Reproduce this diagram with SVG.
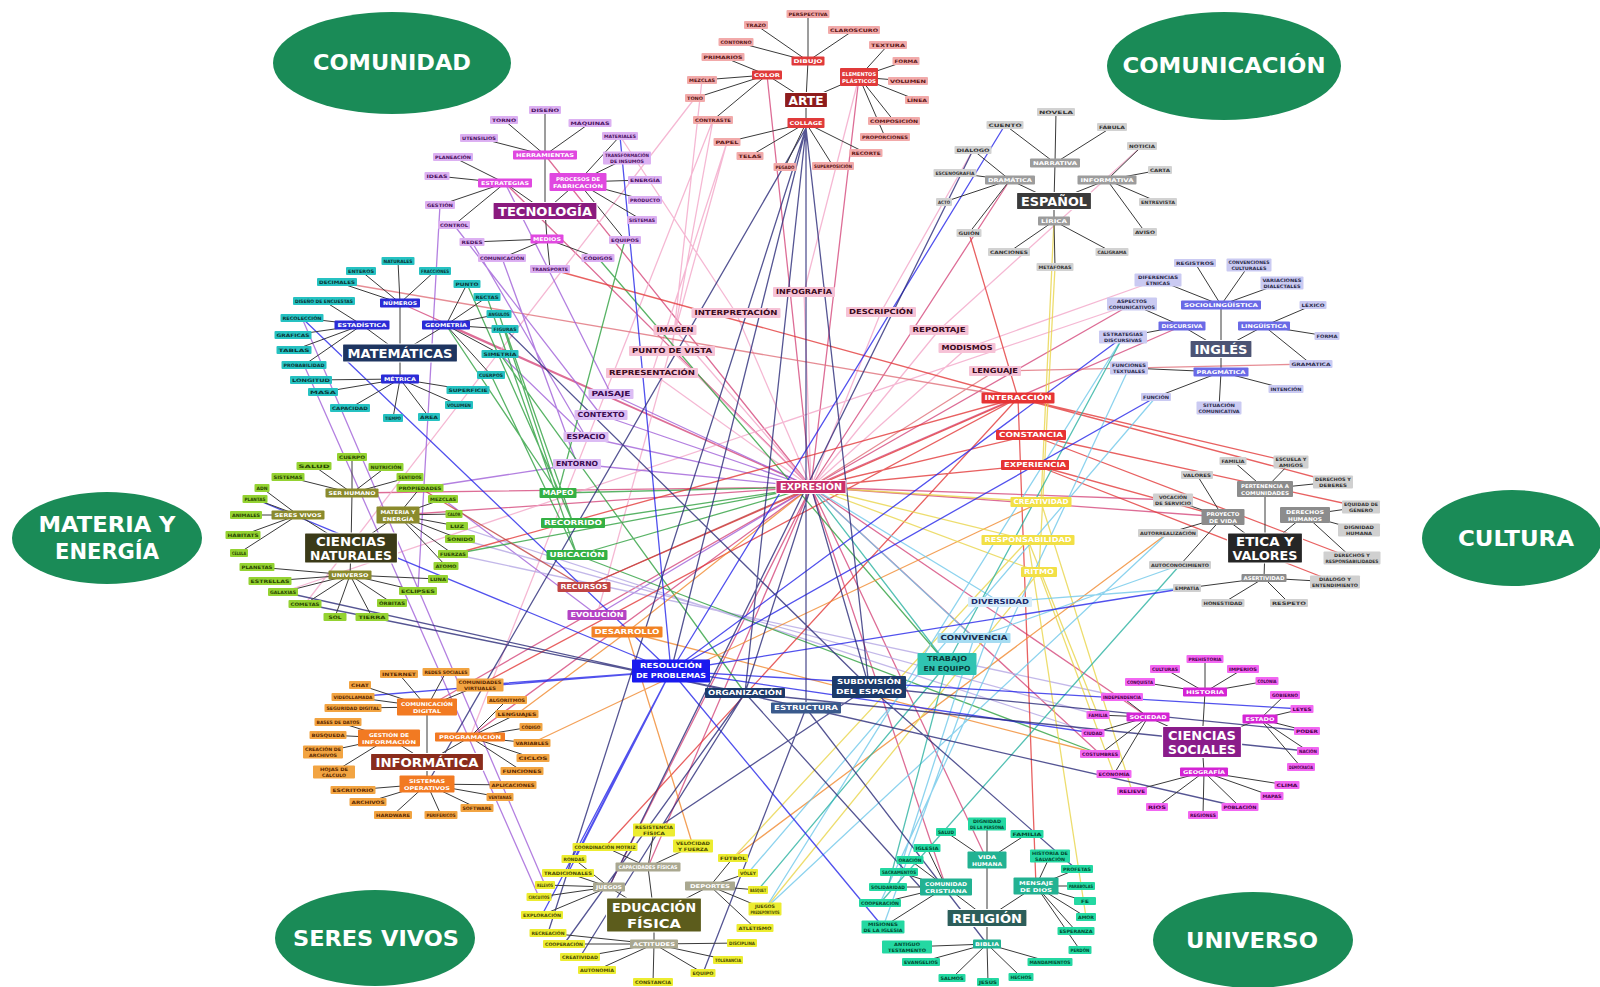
<svg xmlns="http://www.w3.org/2000/svg" width="1600" height="987" viewBox="0 0 1600 987">
<style>
text{font-family:"DejaVu Sans",Verdana,"Liberation Sans",sans-serif;font-weight:bold;text-anchor:middle;dominant-baseline:central}
.ov ellipse{fill:#1a8b57}
.ov text{fill:#fff;font-size:21px}
rect{rx:1}
.h rect{stroke:#fff;stroke-width:1.2}
.h text{fill:#fff;font-size:13px}
.c text{fill:#fff;font-size:5.2px}
.l text{font-size:4.6px}
.m text{font-size:7px}
.br{fill:none;stroke:#3a3a3a;stroke-width:1}
.x{fill:none;stroke-width:1.3;opacity:.8}
.k-ar .h rect{fill:#8e1c1c}.k-ar .c rect{fill:#e03a3a}.k-ar .l rect{fill:#f2aaaa}.k-ar .l text{fill:#5a1515}
.k-te .h rect{fill:#8a1a7e}.k-te .c rect{fill:#e048e0}.k-te .l rect{fill:#dcb0f2}.k-te .l text{fill:#4a1060}
.k-es .h rect{fill:#3a3a3a}.k-es .c rect{fill:#9c9c9c}.k-es .l rect{fill:#d2d2d2}.k-es .l text{fill:#333}
.k-in .h rect{fill:#4c5474}.k-in .c rect{fill:#6a6ae6}.k-in .l rect{fill:#cacaf2}.k-in .l text{fill:#2a2a4a}
.k-ma .h rect{fill:#1e3560}.k-ma .c rect{fill:#2b2bd6}.k-ma .l rect{fill:#26c2c2}.k-ma .l text{fill:#0a3636}
.k-cn .h rect{fill:#3b3a18}.k-cn .c rect{fill:#8a8a2c}.k-cn .l rect{fill:#94d232}.k-cn .l text{fill:#2a4600}
.k-et .h rect{fill:#262626}.k-et .c rect{fill:#8c8c8c}.k-et .l rect{fill:#d0d0d0}.k-et .l text{fill:#333}
.k-if .h rect{fill:#8a2c1c}.k-if .c rect{fill:#f27a22}.k-if .l rect{fill:#f2a442}.k-if .l text{fill:#5a2800}
.k-cs .h rect{fill:#8a1c8a}.k-cs .c rect{fill:#d424d4}.k-cs .l rect{fill:#f266f2}.k-cs .l text{fill:#4a004a}
.k-ef .h rect{fill:#5c5c1c}.k-ef .c rect{fill:#aaa890}.k-ef .l rect{fill:#ecec30}.k-ef .l text{fill:#4a4a00}
.k-re .h rect{fill:#2c5e5a}.k-re .c rect{fill:#22b292}.k-re .l rect{fill:#24d8a2}.k-re .l text{fill:#004a30}
.pk rect{fill:#f6c2d6}.pk text{fill:#3a0a20}
.vi rect{fill:#dcbcf4}.vi text{fill:#3a0a50}
.gr rect{fill:#34b044}.gr text{fill:#fff}
.rb rect{fill:#c04444}.rb text{fill:#fff}
.pu rect{fill:#b444c4}.pu text{fill:#fff}
.or rect{fill:#f28224}.or text{fill:#fff}
.rd rect{fill:#e63434}.rd text{fill:#fff}
.xp rect{fill:#c8306c;stroke:#fff}.xp text{fill:#fff;font-size:8px}
.ye rect{fill:#f2e046}.ye text{fill:#fff}
.lb rect{fill:#d6ecfa}.lb text{fill:#1a2a6a}
.cv rect{fill:#a6dcf2}.cv text{fill:#1a2a4a}
.tq rect{fill:#30c4b2}.tq text{fill:#0a3a3a}
.bu rect{fill:#1a1aee}.bu text{fill:#fff}
.nv rect{fill:#1c3a6a}.nv text{fill:#fff}
.nv2 rect{fill:#3a5a8c}.nv2 text{fill:#fff}
</style>

<rect width="1600" height="987" fill="#fff"/>

<!-- theme ovals -->
<g id="ovals" class="ov">
  <g id="ov-comunidad"><ellipse cx="392" cy="63" rx="119" ry="51"/><text x="392" y="63" textLength="158" lengthAdjust="spacingAndGlyphs">COMUNIDAD</text></g>
  <g id="ov-comunicacion"><ellipse cx="1224" cy="66" rx="117" ry="54"/><text x="1224" y="66" textLength="203" lengthAdjust="spacingAndGlyphs">COMUNICACIÓN</text></g>
  <g id="ov-materia"><ellipse cx="107" cy="538" rx="95" ry="46"/><text x="107" y="525" textLength="137" lengthAdjust="spacingAndGlyphs">MATERIA Y</text><text x="107" y="552" textLength="104" lengthAdjust="spacingAndGlyphs">ENERGÍA</text></g>
  <g id="ov-cultura"><ellipse cx="1512" cy="538" rx="90" ry="48"/><text x="1516" y="539" textLength="116" lengthAdjust="spacingAndGlyphs">CULTURA</text></g>
  <g id="ov-seres"><ellipse cx="375" cy="938" rx="100" ry="48"/><text x="376" y="939" textLength="166" lengthAdjust="spacingAndGlyphs">SERES VIVOS</text></g>
  <g id="ov-universo"><ellipse cx="1253" cy="940" rx="100" ry="48"/><text x="1252" y="941" textLength="132" lengthAdjust="spacingAndGlyphs">UNIVERSO</text></g>
</g>

<g id="connectors">
  <!-- long links between subjects and shared concepts -->
  <g id="cross-links">
    <path class="x" stroke="#d5487c" d="M811 487L545 155M811 487L505 183M811 487L446 325M811 487L400 303M811 487L398 515M811 487L352 493M811 487L427 707M811 487L470 737M811 487L648 867M811 487L609 887M811 487L946 887M811 487L987 860M811 487L1148 717M811 487L1100 754M811 487L1223 517M811 487L1173 500M811 487L1182 326M811 487L1132 304M811 487L1010 180M811 487L767 75M811 487L859 77"/>
    <path class="x" stroke="#f2a6c8" d="M804 292L811 487M804 292L859 77M736 313L811 487M736 313L620 136M881 312L811 487M881 312L973 150M675 330L811 487M675 330L713 120M939 330L811 487M939 330L1142 146M672 351L811 487M672 351L702 80M967 348L811 487M967 348L1158 280M652 373L811 487M652 373L727 142M713 120L470 737M727 142L597 615M695 98L305 604M1132 304L283 592"/>
    <path class="x" stroke="#e0707a" d="M995 371L811 487M995 371L1311 364M337 282L1018 398"/>
    <path class="x" stroke="#a060d8" d="M611 394L811 487M611 394L505 183M601 415L811 487M601 415L454 225M586 437L811 487M586 437L500 354M577 464L811 487M577 464L420 488M472 242L586 437M502 258L577 464M597 615L811 487M597 615L443 499M440 205L418 591M302 318L545 885M304 365L539 897"/>
    <path class="x" stroke="#b4a6e4" d="M1098 715L460 539M1093 733L457 526M1122 697L453 554"/>
    <path class="x" stroke="#30a040" d="M558 493L811 487M558 493L499 314M558 493L446 325M573 523L811 487M573 523L505 329M573 523L467 284M577 555L811 487M577 555L491 375M577 555L487 297M598 258L947 664M577 555L1100 754M454 554L811 487M500 354L745 693M625 240L558 493"/>
    <path class="x" stroke="#e23a3a" d="M1018 398L480 685M1018 398L605 847M1018 398L550 269M1018 398L1291 462M1018 398L1333 482M1018 398L1036 886M1018 398L969 233M1018 398L584 587M1018 398L454 554M1031 435L811 487M1031 435L1352 558M1031 435L1361 507M1035 465L811 487M1035 465L1335 582M1035 465L1223 517"/>
    <path class="x" stroke="#c04444" d="M584 587L811 487M584 587L420 488"/>
    <path class="x" stroke="#f08a30" d="M627 632L811 487M627 632L517 714M627 632L693 846M627 632L1100 754M532 743L1041 502M733 858L1168 533"/>
    <path class="x" stroke="#e8d44a" d="M1041 502L811 487M1041 502L1054 221M1028 540L811 487M1028 540L1098 715M1028 540L733 858M1039 572L811 487M1039 572L1114 774M1039 572L765 909M1055 267L1039 572M1041 502L1132 791M1028 540L1086 917"/>
    <path class="x" stroke="#70c8ea" d="M1123 337L765 909M1129 368L880 903M1156 397L748 873M1000 602L811 487M1000 602L1187 588M1000 602L883 927M974 638L811 487M974 638L1180 565M974 638L899 872M1168 533L765 909"/>
    <path class="x" stroke="#2ab2a0" d="M947 664L811 487M947 664L888 887M947 664L758 890M947 664L1123 337M1180 565L880 903"/>
    <path class="x" stroke="#2525e8" d="M671 671L1123 337M671 671L1156 397M671 671L1005 125M671 671L1093 733M671 671L1302 709M671 671L1187 588M671 671L480 685M671 671L353 697M671 671L568 873M671 671L255 499M671 671L302 318M671 671L620 136M671 671L883 927M671 671L542 915M671 671L574 859"/>
    <path class="x" stroke="#2a2a78" d="M806 128L806 702M806 128L671 671M806 128L745 693M806 128L869 687M806 128L548 933M806 128L427 784M745 693L811 487M745 693L305 604M745 693L1306 751M745 693L920 887M869 687L811 487M869 687L505 329M869 687L1305 731M869 687L1076 869M869 687L654 830M806 708L1240 807M806 708L283 592M806 708L987 944M806 708L703 973M973 150L609 887M745 693L564 944M745 693L580 957"/>
  </g>

  <!-- branches inside each subject map -->
  <g id="branch-links" class="br">
    <path class="br" d="M806 100L808 61M806 100L767 75M806 100L859 77M806 100L806 123M808 61L808 14M808 61L756 25M808 61L854 30M808 61L736 42M767 75L723 57M767 75L702 80M767 75L695 98M767 75L713 120M859 77L888 45M859 77L906 61M859 77L908 81M859 77L917 100M859 77L894 121M859 77L885 137M806 123L727 142M806 123L750 156M806 123L866 153M806 123L785 167M806 123L833 166"/>
    <path class="br" d="M545 211L545 155M545 211L505 183M545 211L578 182M545 211L547 239M545 155L545 110M545 155L504 120M545 155L590 123M545 155L479 138M578 182L620 136M505 183L453 157M578 182L627 158M505 183L437 176M578 182L645 180M505 183L440 205M578 182L645 200M505 183L454 225M578 182L642 220M547 239L472 242M578 182L625 240M547 239L502 258M547 239L598 258M547 239L550 269"/>
    <path class="br" d="M1054 201L1055 163M1054 201L1010 180M1054 201L1107 180M1054 201L1054 221M1055 163L1056 112M1055 163L1005 125M1055 163L1112 127M1010 180L973 150M1107 180L1142 146M1010 180L955 173M1107 180L1160 170M1010 180L944 202M1107 180L1158 202M1010 180L969 233M1107 180L1145 232M1054 221L1009 252M1054 221L1112 252M1054 221L1055 267"/>
    <path class="br" d="M1221 349L1221 305M1221 349L1182 326M1221 349L1264 326M1221 349L1221 372M1221 305L1195 263M1221 305L1249 265M1221 305L1158 280M1221 305L1282 283M1182 326L1132 304M1264 326L1313 305M1182 326L1123 337M1264 326L1327 336M1221 372L1129 368M1264 326L1311 364M1221 372L1156 397M1221 372L1286 389M1221 372L1219 408"/>
    <path class="br" d="M400 353L400 303M400 353L362 325M400 353L446 325M400 353L400 379M400 303L398 261M400 303L361 271M400 303L435 271M400 303L337 282M446 325L467 284M362 325L324 301M446 325L487 297M362 325L302 318M446 325L499 314M362 325L293 335M446 325L505 329M362 325L294 350M446 325L500 354M362 325L304 365M446 325L491 375M400 379L311 380M400 379L468 390M400 379L323 392M400 379L459 405M400 379L350 408M400 379L393 418M400 379L429 417"/>
    <path class="br" d="M351 548L352 493M351 548L298 515M351 548L398 515M351 548L350 575M352 493L352 457M352 493L314 466M352 493L386 467M352 493L288 477M352 493L410 477M298 515L262 488M398 515L420 488M298 515L255 499M398 515L443 499M298 515L246 515M398 515L454 514M298 515L243 535M398 515L457 526M398 515L460 539M298 515L239 553M398 515L453 554M350 575L257 567M398 515L446 566M350 575L270 581M350 575L438 579M350 575L283 592M350 575L418 591M350 575L305 604M350 575L392 603M350 575L335 617M350 575L372 617"/>
    <path class="br" d="M1265 548L1265 489M1265 548L1223 517M1265 548L1305 515M1265 548L1264 578M1265 489L1233 461M1265 489L1291 462M1223 517L1197 475M1265 489L1333 482M1223 517L1173 500M1305 515L1361 507M1223 517L1168 533M1305 515L1359 530M1223 517L1180 565M1305 515L1352 558M1264 578L1187 588M1264 578L1335 582M1264 578L1223 603M1264 578L1289 603"/>
    <path class="br" d="M427 762L427 707M427 762L389 738M427 762L470 737M427 762L427 784M427 707L399 674M427 707L446 672M427 707L360 685M427 707L480 685M427 707L353 697M427 707L353 708M470 737L507 700M389 738L338 722M470 737L517 714M389 738L328 735M470 737L531 727M389 738L323 752M470 737L532 743M389 738L334 772M470 737L533 758M470 737L522 771M427 784L353 790M427 784L513 785M427 784L368 802M427 784L500 797M427 784L477 808M427 784L393 815M427 784L441 815"/>
    <path class="br" d="M1202 742L1205 692M1202 742L1148 717M1202 742L1260 719M1202 742L1204 772M1205 692L1205 659M1205 692L1165 669M1205 692L1243 669M1205 692L1140 682M1205 692L1267 681M1148 717L1122 697M1260 719L1285 695M1148 717L1098 715M1260 719L1302 709M1148 717L1093 733M1260 719L1307 731M1148 717L1100 754M1260 719L1308 751M1148 717L1114 774M1260 719L1301 767M1204 772L1132 791M1204 772L1287 785M1204 772L1157 807M1204 772L1272 796M1204 772L1240 807M1204 772L1203 815"/>
    <path class="br" d="M654 915L648 867M654 915L609 887M654 915L710 886M654 915L654 944M648 867L654 830M648 867L693 846M648 867L605 847M609 887L574 859M710 886L733 858M609 887L568 873M710 886L748 873M609 887L545 885M710 886L758 890M609 887L539 897M710 886L765 909M609 887L542 915M710 886L755 928M654 944L548 933M654 944L742 943M654 944L564 944M654 944L728 960M654 944L580 957M654 944L703 973M654 944L597 970M654 944L653 983"/>
    <path class="br" d="M987 918L987 860M987 918L946 887M987 918L1036 886M987 918L987 944M987 860L987 824M987 860L946 832M987 860L1027 834M946 887L927 848M1036 886L1050 856M946 887L910 860M946 887L899 872M1036 886L1077 869M946 887L888 887M1036 886L1081 886M946 887L880 903M1036 886L1085 901M946 887L883 927M1036 886L1086 917M987 944L907 947M1036 886L1076 931M987 944L921 962M1036 886L1080 950M987 944L952 978M987 944L1050 962M987 944L988 983M987 944L1021 977"/>
  </g>
</g>

<!-- shared concepts in the middle -->
<g id="concepts" class="m">
  <g id="m-infografia" class="pk" transform="translate(804,292)"><rect x="-31" y="-5" width="62" height="10"/><text textLength="56" lengthAdjust="spacingAndGlyphs">INFOGRAFÍA</text></g>
  <g id="m-interpretacion" class="pk" transform="translate(736,313)"><rect x="-44.5" y="-5" width="89" height="10"/><text textLength="83" lengthAdjust="spacingAndGlyphs">INTERPRETACIÓN</text></g>
  <g id="m-descripcion" class="pk" transform="translate(881,312)"><rect x="-35" y="-5" width="70" height="10"/><text textLength="64" lengthAdjust="spacingAndGlyphs">DESCRIPCIÓN</text></g>
  <g id="m-imagen" class="pk" transform="translate(675,330)"><rect x="-21.5" y="-5" width="43" height="10"/><text textLength="37" lengthAdjust="spacingAndGlyphs">IMAGEN</text></g>
  <g id="m-reportaje" class="pk" transform="translate(939,330)"><rect x="-29.5" y="-5" width="59" height="10"/><text textLength="53" lengthAdjust="spacingAndGlyphs">REPORTAJE</text></g>
  <g id="m-punto" class="pk" transform="translate(672,351)"><rect x="-43" y="-5" width="86" height="10"/><text textLength="80" lengthAdjust="spacingAndGlyphs">PUNTO DE VISTA</text></g>
  <g id="m-modismos" class="pk" transform="translate(967,348)"><rect x="-28.5" y="-5" width="57" height="10"/><text textLength="51" lengthAdjust="spacingAndGlyphs">MODISMOS</text></g>
  <g id="m-representacion" class="pk" transform="translate(652,373)"><rect x="-46" y="-5" width="92" height="10"/><text textLength="86" lengthAdjust="spacingAndGlyphs">REPRESENTACIÓN</text></g>
  <g id="m-lenguaje" class="pk" transform="translate(995,371)"><rect x="-26" y="-5" width="52" height="10"/><text textLength="46" lengthAdjust="spacingAndGlyphs">LENGUAJE</text></g>
  <g id="m-paisaje" class="vi" transform="translate(611,394)"><rect x="-22.5" y="-5" width="45" height="10"/><text textLength="39" lengthAdjust="spacingAndGlyphs">PAISAJE</text></g>
  <g id="m-contexto" class="vi" transform="translate(601,415)"><rect x="-26.5" y="-5" width="53" height="10"/><text textLength="47" lengthAdjust="spacingAndGlyphs">CONTEXTO</text></g>
  <g id="m-espacio" class="vi" transform="translate(586,437)"><rect x="-22.5" y="-5" width="45" height="10"/><text textLength="39" lengthAdjust="spacingAndGlyphs">ESPACIO</text></g>
  <g id="m-entorno" class="vi" transform="translate(577,464)"><rect x="-24" y="-5" width="48" height="10"/><text textLength="42" lengthAdjust="spacingAndGlyphs">ENTORNO</text></g>
  <g id="m-mapeo" class="gr" transform="translate(558,493)"><rect x="-18.5" y="-5" width="37" height="10"/><text textLength="31" lengthAdjust="spacingAndGlyphs">MAPEO</text></g>
  <g id="m-recorrido" class="gr" transform="translate(573,523)"><rect x="-32" y="-5" width="64" height="10"/><text textLength="58" lengthAdjust="spacingAndGlyphs">RECORRIDO</text></g>
  <g id="m-ubicacion" class="gr" transform="translate(577,555)"><rect x="-30.5" y="-5" width="61" height="10"/><text textLength="55" lengthAdjust="spacingAndGlyphs">UBICACIÓN</text></g>
  <g id="m-recursos" class="rb" transform="translate(584,587)"><rect x="-26.5" y="-5" width="53" height="10"/><text textLength="47" lengthAdjust="spacingAndGlyphs">RECURSOS</text></g>
  <g id="m-evolucion" class="pu" transform="translate(597,615)"><rect x="-29.5" y="-5" width="59" height="10"/><text textLength="53" lengthAdjust="spacingAndGlyphs">EVOLUCIÓN</text></g>
  <g id="m-desarrollo" class="or" transform="translate(627,632)"><rect x="-35.5" y="-5.5" width="71" height="11"/><text textLength="65" lengthAdjust="spacingAndGlyphs">DESARROLLO</text></g>
  <g id="m-interaccion" class="rd" transform="translate(1018,398)"><rect x="-36.5" y="-5.5" width="73" height="11"/><text textLength="67" lengthAdjust="spacingAndGlyphs">INTERACCIÓN</text></g>
  <g id="m-constancia" class="rd" transform="translate(1031,435)"><rect x="-35" y="-5" width="70" height="10"/><text textLength="64" lengthAdjust="spacingAndGlyphs">CONSTANCIA</text></g>
  <g id="m-experiencia" class="rd" transform="translate(1035,465)"><rect x="-34" y="-5" width="68" height="10"/><text textLength="62" lengthAdjust="spacingAndGlyphs">EXPERIENCIA</text></g>
  <g id="m-expresion" class="xp" transform="translate(811,487)"><rect x="-35" y="-6.5" width="70" height="13"/><text textLength="62" lengthAdjust="spacingAndGlyphs">EXPRESIÓN</text></g>
  <g id="m-creatividad" class="ye" transform="translate(1041,502)"><rect x="-30.5" y="-5" width="61" height="10"/><text textLength="55" lengthAdjust="spacingAndGlyphs">CREATIVIDAD</text></g>
  <g id="m-responsabilidad" class="ye" transform="translate(1028,540)"><rect x="-46.5" y="-5" width="93" height="10"/><text textLength="87" lengthAdjust="spacingAndGlyphs">RESPONSABILIDAD</text></g>
  <g id="m-ritmo" class="ye" transform="translate(1039,572)"><rect x="-18" y="-5" width="36" height="10"/><text textLength="30" lengthAdjust="spacingAndGlyphs">RITMO</text></g>
  <g id="m-diversidad" class="lb" transform="translate(1000,602)"><rect x="-32" y="-5" width="64" height="10"/><text textLength="58" lengthAdjust="spacingAndGlyphs">DIVERSIDAD</text></g>
  <g id="m-convivencia" class="cv" transform="translate(974,638)"><rect x="-36.5" y="-5" width="73" height="10"/><text textLength="67" lengthAdjust="spacingAndGlyphs">CONVIVENCIA</text></g>
  <g id="m-trabajo" class="tq" transform="translate(947,664)"><rect x="-29.5" y="-11" width="59" height="22"/><text y="-5" textLength="40" lengthAdjust="spacingAndGlyphs">TRABAJO</text><text y="5" textLength="47" lengthAdjust="spacingAndGlyphs">EN EQUIPO</text></g>
  <g id="m-resolucion" class="bu" transform="translate(671,671)"><rect x="-39" y="-11.5" width="78" height="23"/><text y="-5" textLength="62" lengthAdjust="spacingAndGlyphs">RESOLUCIÓN</text><text y="5" textLength="70" lengthAdjust="spacingAndGlyphs">DE PROBLEMAS</text></g>
  <g id="m-subdivision" class="nv" transform="translate(869,687)"><rect x="-37" y="-11" width="74" height="22"/><text y="-5" textLength="64" lengthAdjust="spacingAndGlyphs">SUBDIVISIÓN</text><text y="5" textLength="66" lengthAdjust="spacingAndGlyphs">DEL ESPACIO</text></g>
  <g id="m-organizacion" class="nv" transform="translate(745,693)"><rect x="-40" y="-5" width="80" height="10"/><text textLength="74" lengthAdjust="spacingAndGlyphs">ORGANIZACIÓN</text></g>
  <g id="m-estructura" class="nv2" transform="translate(806,708)"><rect x="-35" y="-5.5" width="70" height="11"/><text textLength="64" lengthAdjust="spacingAndGlyphs">ESTRUCTURA</text></g>
</g>

<!-- ARTE -->
<g id="cl-arte" class="k-ar">
  <g id="arte" class="h" transform="translate(806,100)"><rect x="-21.5" y="-7.5" width="43" height="15"/><text textLength="35" lengthAdjust="spacingAndGlyphs">ARTE</text></g>
  <g id="ar-c1" class="c" transform="translate(808,61)"><rect x="-16.5" y="-4.5" width="33" height="9"/><text textLength="29" lengthAdjust="spacingAndGlyphs">DIBUJO</text></g>
  <g id="ar-c2" class="c" transform="translate(767,75)"><rect x="-15" y="-4.5" width="30" height="9"/><text textLength="26" lengthAdjust="spacingAndGlyphs">COLOR</text></g>
  <g id="ar-c3" class="c" transform="translate(859,77)"><rect x="-19" y="-9" width="38" height="18"/><text y="-3.5" textLength="34" lengthAdjust="spacingAndGlyphs">ELEMENTOS</text><text y="3.5" textLength="34" lengthAdjust="spacingAndGlyphs">PLÁSTICOS</text></g>
  <g id="ar-c4" class="c" transform="translate(806,123)"><rect x="-18.5" y="-5" width="37" height="10"/><text textLength="33" lengthAdjust="spacingAndGlyphs">COLLAGE</text></g>
  <g id="ar-l1" class="l" transform="translate(808,14)"><rect x="-21.5" y="-4" width="43" height="8"/><text textLength="39" lengthAdjust="spacingAndGlyphs">PERSPECTIVA</text></g>
  <g id="ar-l2" class="l" transform="translate(756,25)"><rect x="-12" y="-4" width="24" height="8"/><text textLength="20" lengthAdjust="spacingAndGlyphs">TRAZO</text></g>
  <g id="ar-l3" class="l" transform="translate(854,30)"><rect x="-26" y="-4" width="52" height="8"/><text textLength="48" lengthAdjust="spacingAndGlyphs">CLAROSCURO</text></g>
  <g id="ar-l4" class="l" transform="translate(736,42)"><rect x="-17.5" y="-4" width="35" height="8"/><text textLength="31" lengthAdjust="spacingAndGlyphs">CONTORNO</text></g>
  <g id="ar-l5" class="l" transform="translate(888,45)"><rect x="-19" y="-4" width="38" height="8"/><text textLength="34" lengthAdjust="spacingAndGlyphs">TEXTURA</text></g>
  <g id="ar-l6" class="l" transform="translate(723,57)"><rect x="-21.5" y="-4" width="43" height="8"/><text textLength="39" lengthAdjust="spacingAndGlyphs">PRIMARIOS</text></g>
  <g id="ar-l7" class="l" transform="translate(906,61)"><rect x="-13.5" y="-4" width="27" height="8"/><text textLength="23" lengthAdjust="spacingAndGlyphs">FORMA</text></g>
  <g id="ar-l8" class="l" transform="translate(702,80)"><rect x="-15" y="-4" width="30" height="8"/><text textLength="26" lengthAdjust="spacingAndGlyphs">MEZCLAS</text></g>
  <g id="ar-l9" class="l" transform="translate(908,81)"><rect x="-20" y="-4" width="40" height="8"/><text textLength="36" lengthAdjust="spacingAndGlyphs">VOLUMEN</text></g>
  <g id="ar-l10" class="l" transform="translate(695,98)"><rect x="-10" y="-4" width="20" height="8"/><text textLength="16" lengthAdjust="spacingAndGlyphs">TONO</text></g>
  <g id="ar-l11" class="l" transform="translate(917,100)"><rect x="-12" y="-4" width="24" height="8"/><text textLength="20" lengthAdjust="spacingAndGlyphs">LÍNEA</text></g>
  <g id="ar-l12" class="l" transform="translate(713,120)"><rect x="-20" y="-4" width="40" height="8"/><text textLength="36" lengthAdjust="spacingAndGlyphs">CONTRASTE</text></g>
  <g id="ar-l13" class="l" transform="translate(894,121)"><rect x="-26" y="-4" width="52" height="8"/><text textLength="48" lengthAdjust="spacingAndGlyphs">COMPOSICIÓN</text></g>
  <g id="ar-l14" class="l" transform="translate(885,137)"><rect x="-25" y="-4" width="50" height="8"/><text textLength="46" lengthAdjust="spacingAndGlyphs">PROPORCIONES</text></g>
  <g id="ar-l15" class="l" transform="translate(727,142)"><rect x="-13.5" y="-4" width="27" height="8"/><text textLength="23" lengthAdjust="spacingAndGlyphs">PAPEL</text></g>
  <g id="ar-l16" class="l" transform="translate(750,156)"><rect x="-13.5" y="-4" width="27" height="8"/><text textLength="23" lengthAdjust="spacingAndGlyphs">TELAS</text></g>
  <g id="ar-l17" class="l" transform="translate(866,153)"><rect x="-16.5" y="-4" width="33" height="8"/><text textLength="29" lengthAdjust="spacingAndGlyphs">RECORTE</text></g>
  <g id="ar-l18" class="l" transform="translate(785,167)"><rect x="-11.5" y="-4" width="23" height="8"/><text textLength="19" lengthAdjust="spacingAndGlyphs">PEGADO</text></g>
  <g id="ar-l19" class="l" transform="translate(833,166)"><rect x="-21" y="-4" width="42" height="8"/><text textLength="38" lengthAdjust="spacingAndGlyphs">SUPERPOSICIÓN</text></g>
</g>

<!-- TECNOLOGÍA -->
<g id="cl-tecnologia" class="k-te">
  <g id="tecnologia" class="h" transform="translate(545,211)"><rect x="-52" y="-8.5" width="104" height="17"/><text textLength="94" lengthAdjust="spacingAndGlyphs">TECNOLOGÍA</text></g>
  <g id="te-c1" class="c" transform="translate(545,155)"><rect x="-32" y="-4.5" width="64" height="9"/><text textLength="58" lengthAdjust="spacingAndGlyphs">HERRAMIENTAS</text></g>
  <g id="te-c2" class="c" transform="translate(505,183)"><rect x="-27" y="-4.5" width="54" height="9"/><text textLength="48" lengthAdjust="spacingAndGlyphs">ESTRATEGIAS</text></g>
  <g id="te-c3" class="c" transform="translate(578,182)"><rect x="-28.5" y="-9" width="57" height="18"/><text y="-3.5" textLength="44" lengthAdjust="spacingAndGlyphs">PROCESOS DE</text><text y="3.5" textLength="50" lengthAdjust="spacingAndGlyphs">FABRICACIÓN</text></g>
  <g id="te-c4" class="c" transform="translate(547,239)"><rect x="-16.5" y="-4.5" width="33" height="9"/><text textLength="28" lengthAdjust="spacingAndGlyphs">MEDIOS</text></g>
  <g id="te-l1" class="l" transform="translate(545,110)"><rect x="-16" y="-4" width="32" height="8"/><text textLength="28" lengthAdjust="spacingAndGlyphs">DISEÑO</text></g>
  <g id="te-l2" class="l" transform="translate(504,120)"><rect x="-14" y="-4" width="28" height="8"/><text textLength="24" lengthAdjust="spacingAndGlyphs">TORNO</text></g>
  <g id="te-l3" class="l" transform="translate(590,123)"><rect x="-21.5" y="-4" width="43" height="8"/><text textLength="39" lengthAdjust="spacingAndGlyphs">MÁQUINAS</text></g>
  <g id="te-l4" class="l" transform="translate(479,138)"><rect x="-19" y="-4" width="38" height="8"/><text textLength="34" lengthAdjust="spacingAndGlyphs">UTENSILIOS</text></g>
  <g id="te-l5" class="l" transform="translate(620,136)"><rect x="-18" y="-4" width="36" height="8"/><text textLength="32" lengthAdjust="spacingAndGlyphs">MATERIALES</text></g>
  <g id="te-l6" class="l" transform="translate(453,157)"><rect x="-20" y="-4" width="40" height="8"/><text textLength="36" lengthAdjust="spacingAndGlyphs">PLANEACIÓN</text></g>
  <g id="te-l7" class="l" transform="translate(627,158)"><rect x="-24" y="-6.5" width="48" height="13"/><text y="-3" textLength="44" lengthAdjust="spacingAndGlyphs">TRANSFORMACIÓN</text><text y="3" textLength="34" lengthAdjust="spacingAndGlyphs">DE INSUMOS</text></g>
  <g id="te-l8" class="l" transform="translate(437,176)"><rect x="-12.5" y="-4" width="25" height="8"/><text textLength="21" lengthAdjust="spacingAndGlyphs">IDEAS</text></g>
  <g id="te-l9" class="l" transform="translate(645,180)"><rect x="-17" y="-4" width="34" height="8"/><text textLength="30" lengthAdjust="spacingAndGlyphs">ENERGÍA</text></g>
  <g id="te-l10" class="l" transform="translate(440,205)"><rect x="-15" y="-4" width="30" height="8"/><text textLength="26" lengthAdjust="spacingAndGlyphs">GESTIÓN</text></g>
  <g id="te-l11" class="l" transform="translate(645,200)"><rect x="-17" y="-4" width="34" height="8"/><text textLength="30" lengthAdjust="spacingAndGlyphs">PRODUCTO</text></g>
  <g id="te-l12" class="l" transform="translate(454,225)"><rect x="-16" y="-4" width="32" height="8"/><text textLength="28" lengthAdjust="spacingAndGlyphs">CONTROL</text></g>
  <g id="te-l13" class="l" transform="translate(642,220)"><rect x="-15" y="-4" width="30" height="8"/><text textLength="26" lengthAdjust="spacingAndGlyphs">SISTEMAS</text></g>
  <g id="te-l14" class="l" transform="translate(472,242)"><rect x="-12.5" y="-4" width="25" height="8"/><text textLength="21" lengthAdjust="spacingAndGlyphs">REDES</text></g>
  <g id="te-l15" class="l" transform="translate(625,240)"><rect x="-16" y="-4" width="32" height="8"/><text textLength="28" lengthAdjust="spacingAndGlyphs">EQUIPOS</text></g>
  <g id="te-l16" class="l" transform="translate(502,258)"><rect x="-24" y="-4" width="48" height="8"/><text textLength="44" lengthAdjust="spacingAndGlyphs">COMUNICACIÓN</text></g>
  <g id="te-l17" class="l" transform="translate(598,258)"><rect x="-16.5" y="-4" width="33" height="8"/><text textLength="29" lengthAdjust="spacingAndGlyphs">CÓDIGOS</text></g>
  <g id="te-l18" class="l" transform="translate(550,269)"><rect x="-20" y="-4" width="40" height="8"/><text textLength="36" lengthAdjust="spacingAndGlyphs">TRANSPORTE</text></g>
</g>

<!-- ESPAÑOL -->
<g id="cl-espanol" class="k-es">
  <g id="espanol" class="h" transform="translate(1054,201)"><rect x="-37.5" y="-8.5" width="75" height="17"/><text textLength="66" lengthAdjust="spacingAndGlyphs">ESPAÑOL</text></g>
  <g id="es-c1" class="c" transform="translate(1055,163)"><rect x="-25" y="-4.5" width="50" height="9"/><text textLength="44" lengthAdjust="spacingAndGlyphs">NARRATIVA</text></g>
  <g id="es-c2" class="c" transform="translate(1010,180)"><rect x="-25" y="-4.5" width="50" height="9"/><text textLength="44" lengthAdjust="spacingAndGlyphs">DRAMÁTICA</text></g>
  <g id="es-c3" class="c" transform="translate(1107,180)"><rect x="-29.5" y="-4.5" width="59" height="9"/><text textLength="53" lengthAdjust="spacingAndGlyphs">INFORMATIVA</text></g>
  <g id="es-c4" class="c" transform="translate(1054,221)"><rect x="-16" y="-4.5" width="32" height="9"/><text textLength="26" lengthAdjust="spacingAndGlyphs">LÍRICA</text></g>
  <g id="es-l1" class="l" transform="translate(1056,112)"><rect x="-19" y="-4" width="38" height="8"/><text textLength="34" lengthAdjust="spacingAndGlyphs">NOVELA</text></g>
  <g id="es-l2" class="l" transform="translate(1005,125)"><rect x="-18.5" y="-4" width="37" height="8"/><text textLength="33" lengthAdjust="spacingAndGlyphs">CUENTO</text></g>
  <g id="es-l3" class="l" transform="translate(1112,127)"><rect x="-15" y="-4" width="30" height="8"/><text textLength="26" lengthAdjust="spacingAndGlyphs">FÁBULA</text></g>
  <g id="es-l4" class="l" transform="translate(973,150)"><rect x="-18.5" y="-4" width="37" height="8"/><text textLength="33" lengthAdjust="spacingAndGlyphs">DIÁLOGO</text></g>
  <g id="es-l5" class="l" transform="translate(1142,146)"><rect x="-15" y="-4" width="30" height="8"/><text textLength="26" lengthAdjust="spacingAndGlyphs">NOTICIA</text></g>
  <g id="es-l6" class="l" transform="translate(955,173)"><rect x="-21.5" y="-4" width="43" height="8"/><text textLength="39" lengthAdjust="spacingAndGlyphs">ESCENOGRAFÍA</text></g>
  <g id="es-l7" class="l" transform="translate(1160,170)"><rect x="-12" y="-4" width="24" height="8"/><text textLength="20" lengthAdjust="spacingAndGlyphs">CARTA</text></g>
  <g id="es-l8" class="l" transform="translate(944,202)"><rect x="-8" y="-4" width="16" height="8"/><text textLength="12" lengthAdjust="spacingAndGlyphs">ACTO</text></g>
  <g id="es-l9" class="l" transform="translate(1158,202)"><rect x="-19" y="-4" width="38" height="8"/><text textLength="34" lengthAdjust="spacingAndGlyphs">ENTREVISTA</text></g>
  <g id="es-l10" class="l" transform="translate(969,233)"><rect x="-12.5" y="-4" width="25" height="8"/><text textLength="21" lengthAdjust="spacingAndGlyphs">GUIÓN</text></g>
  <g id="es-l11" class="l" transform="translate(1145,232)"><rect x="-12" y="-4" width="24" height="8"/><text textLength="20" lengthAdjust="spacingAndGlyphs">AVISO</text></g>
  <g id="es-l12" class="l" transform="translate(1009,252)"><rect x="-21" y="-4" width="42" height="8"/><text textLength="38" lengthAdjust="spacingAndGlyphs">CANCIONES</text></g>
  <g id="es-l13" class="l" transform="translate(1112,252)"><rect x="-16.5" y="-4" width="33" height="8"/><text textLength="29" lengthAdjust="spacingAndGlyphs">CALIGRAMA</text></g>
  <g id="es-l14" class="l" transform="translate(1055,267)"><rect x="-18.5" y="-4" width="37" height="8"/><text textLength="33" lengthAdjust="spacingAndGlyphs">METÁFORAS</text></g>
</g>

<!-- INGLÉS -->
<g id="cl-ingles" class="k-in">
  <g id="ingles" class="h" transform="translate(1221,349)"><rect x="-31" y="-8.5" width="62" height="17"/><text textLength="53" lengthAdjust="spacingAndGlyphs">INGLÉS</text></g>
  <g id="in-c1" class="c" transform="translate(1221,305)"><rect x="-40" y="-4.5" width="80" height="9"/><text textLength="74" lengthAdjust="spacingAndGlyphs">SOCIOLINGÜÍSTICA</text></g>
  <g id="in-c2" class="c" transform="translate(1182,326)"><rect x="-23.5" y="-4.5" width="47" height="9"/><text textLength="41" lengthAdjust="spacingAndGlyphs">DISCURSIVA</text></g>
  <g id="in-c3" class="c" transform="translate(1264,326)"><rect x="-26" y="-4.5" width="52" height="9"/><text textLength="46" lengthAdjust="spacingAndGlyphs">LINGÜÍSTICA</text></g>
  <g id="in-c4" class="c" transform="translate(1221,372)"><rect x="-27.5" y="-4.5" width="55" height="9"/><text textLength="49" lengthAdjust="spacingAndGlyphs">PRAGMÁTICA</text></g>
  <g id="in-l1" class="l" transform="translate(1195,263)"><rect x="-21" y="-4" width="42" height="8"/><text textLength="38" lengthAdjust="spacingAndGlyphs">REGISTROS</text></g>
  <g id="in-l2" class="l" transform="translate(1249,265)"><rect x="-22.5" y="-6.5" width="45" height="13"/><text y="-3" textLength="41" lengthAdjust="spacingAndGlyphs">CONVENCIONES</text><text y="3" textLength="35" lengthAdjust="spacingAndGlyphs">CULTURALES</text></g>
  <g id="in-l3" class="l" transform="translate(1158,280)"><rect x="-23.5" y="-6.5" width="47" height="13"/><text y="-3" textLength="40" lengthAdjust="spacingAndGlyphs">DIFERENCIAS</text><text y="3" textLength="24" lengthAdjust="spacingAndGlyphs">ÉTNICAS</text></g>
  <g id="in-l4" class="l" transform="translate(1282,283)"><rect x="-21.5" y="-6.5" width="43" height="13"/><text y="-3" textLength="39" lengthAdjust="spacingAndGlyphs">VARIACIONES</text><text y="3" textLength="37" lengthAdjust="spacingAndGlyphs">DIALECTALES</text></g>
  <g id="in-l5" class="l" transform="translate(1132,304)"><rect x="-25" y="-6.5" width="50" height="13"/><text y="-3" textLength="30" lengthAdjust="spacingAndGlyphs">ASPECTOS</text><text y="3" textLength="46" lengthAdjust="spacingAndGlyphs">COMUNICATIVOS</text></g>
  <g id="in-l6" class="l" transform="translate(1313,305)"><rect x="-13.5" y="-4" width="27" height="8"/><text textLength="23" lengthAdjust="spacingAndGlyphs">LÉXICO</text></g>
  <g id="in-l7" class="l" transform="translate(1123,337)"><rect x="-24" y="-6.5" width="48" height="13"/><text y="-3" textLength="40" lengthAdjust="spacingAndGlyphs">ESTRATEGIAS</text><text y="3" textLength="38" lengthAdjust="spacingAndGlyphs">DISCURSIVAS</text></g>
  <g id="in-l8" class="l" transform="translate(1327,336)"><rect x="-12.5" y="-4" width="25" height="8"/><text textLength="21" lengthAdjust="spacingAndGlyphs">FORMA</text></g>
  <g id="in-l9" class="l" transform="translate(1129,368)"><rect x="-19" y="-6.5" width="38" height="13"/><text y="-3" textLength="34" lengthAdjust="spacingAndGlyphs">FUNCIONES</text><text y="3" textLength="32" lengthAdjust="spacingAndGlyphs">TEXTUALES</text></g>
  <g id="in-l10" class="l" transform="translate(1311,364)"><rect x="-21.5" y="-4" width="43" height="8"/><text textLength="39" lengthAdjust="spacingAndGlyphs">GRAMÁTICA</text></g>
  <g id="in-l11" class="l" transform="translate(1156,397)"><rect x="-15" y="-4" width="30" height="8"/><text textLength="26" lengthAdjust="spacingAndGlyphs">FUNCIÓN</text></g>
  <g id="in-l12" class="l" transform="translate(1286,389)"><rect x="-17.5" y="-4" width="35" height="8"/><text textLength="31" lengthAdjust="spacingAndGlyphs">INTENCIÓN</text></g>
  <g id="in-l13" class="l" transform="translate(1219,408)"><rect x="-22.5" y="-6.5" width="45" height="13"/><text y="-3" textLength="32" lengthAdjust="spacingAndGlyphs">SITUACIÓN</text><text y="3" textLength="41" lengthAdjust="spacingAndGlyphs">COMUNICATIVA</text></g>
</g>

<!-- MATEMÁTICAS -->
<g id="cl-matematicas" class="k-ma">
  <g id="matematicas" class="h" transform="translate(400,353)"><rect x="-57.5" y="-9" width="115" height="18"/><text textLength="105" lengthAdjust="spacingAndGlyphs">MATEMÁTICAS</text></g>
  <g id="ma-c1" class="c" transform="translate(400,303)"><rect x="-20" y="-4.5" width="40" height="9"/><text textLength="34" lengthAdjust="spacingAndGlyphs">NÚMEROS</text></g>
  <g id="ma-c2" class="c" transform="translate(362,325)"><rect x="-27.5" y="-4.5" width="55" height="9"/><text textLength="49" lengthAdjust="spacingAndGlyphs">ESTADÍSTICA</text></g>
  <g id="ma-c3" class="c" transform="translate(446,325)"><rect x="-24" y="-4.5" width="48" height="9"/><text textLength="42" lengthAdjust="spacingAndGlyphs">GEOMETRÍA</text></g>
  <g id="ma-c4" class="c" transform="translate(400,379)"><rect x="-19" y="-4.5" width="38" height="9"/><text textLength="32" lengthAdjust="spacingAndGlyphs">MÉTRICA</text></g>
  <g id="ma-l1" class="l" transform="translate(398,261)"><rect x="-16.5" y="-4" width="33" height="8"/><text textLength="29" lengthAdjust="spacingAndGlyphs">NATURALES</text></g>
  <g id="ma-l2" class="l" transform="translate(361,271)"><rect x="-15" y="-4" width="30" height="8"/><text textLength="26" lengthAdjust="spacingAndGlyphs">ENTEROS</text></g>
  <g id="ma-l3" class="l" transform="translate(435,271)"><rect x="-16" y="-4" width="32" height="8"/><text textLength="28" lengthAdjust="spacingAndGlyphs">FRACCIONES</text></g>
  <g id="ma-l4" class="l" transform="translate(337,282)"><rect x="-20" y="-4" width="40" height="8"/><text textLength="36" lengthAdjust="spacingAndGlyphs">DECIMALES</text></g>
  <g id="ma-l5" class="l" transform="translate(467,284)"><rect x="-13.5" y="-4" width="27" height="8"/><text textLength="23" lengthAdjust="spacingAndGlyphs">PUNTO</text></g>
  <g id="ma-l6" class="l" transform="translate(324,301)"><rect x="-31" y="-4" width="62" height="8"/><text textLength="58" lengthAdjust="spacingAndGlyphs">DISEÑO DE ENCUESTAS</text></g>
  <g id="ma-l7" class="l" transform="translate(487,297)"><rect x="-13.5" y="-4" width="27" height="8"/><text textLength="23" lengthAdjust="spacingAndGlyphs">RECTAS</text></g>
  <g id="ma-l8" class="l" transform="translate(302,318)"><rect x="-21.5" y="-4" width="43" height="8"/><text textLength="39" lengthAdjust="spacingAndGlyphs">RECOLECCIÓN</text></g>
  <g id="ma-l9" class="l" transform="translate(499,314)"><rect x="-12.5" y="-4" width="25" height="8"/><text textLength="21" lengthAdjust="spacingAndGlyphs">ÁNGULOS</text></g>
  <g id="ma-l10" class="l" transform="translate(293,335)"><rect x="-18.5" y="-4" width="37" height="8"/><text textLength="33" lengthAdjust="spacingAndGlyphs">GRÁFICAS</text></g>
  <g id="ma-l11" class="l" transform="translate(505,329)"><rect x="-13.5" y="-4" width="27" height="8"/><text textLength="23" lengthAdjust="spacingAndGlyphs">FIGURAS</text></g>
  <g id="ma-l12" class="l" transform="translate(294,350)"><rect x="-17.5" y="-4" width="35" height="8"/><text textLength="31" lengthAdjust="spacingAndGlyphs">TABLAS</text></g>
  <g id="ma-l13" class="l" transform="translate(500,354)"><rect x="-18.5" y="-4" width="37" height="8"/><text textLength="33" lengthAdjust="spacingAndGlyphs">SIMETRÍA</text></g>
  <g id="ma-l14" class="l" transform="translate(304,365)"><rect x="-22.5" y="-4" width="45" height="8"/><text textLength="41" lengthAdjust="spacingAndGlyphs">PROBABILIDAD</text></g>
  <g id="ma-l15" class="l" transform="translate(491,375)"><rect x="-14" y="-4" width="28" height="8"/><text textLength="24" lengthAdjust="spacingAndGlyphs">CUERPOS</text></g>
  <g id="ma-l16" class="l" transform="translate(311,380)"><rect x="-21" y="-4" width="42" height="8"/><text textLength="38" lengthAdjust="spacingAndGlyphs">LONGITUD</text></g>
  <g id="ma-l17" class="l" transform="translate(468,390)"><rect x="-21.5" y="-4" width="43" height="8"/><text textLength="39" lengthAdjust="spacingAndGlyphs">SUPERFICIE</text></g>
  <g id="ma-l18" class="l" transform="translate(323,392)"><rect x="-15" y="-4" width="30" height="8"/><text textLength="26" lengthAdjust="spacingAndGlyphs">MASA</text></g>
  <g id="ma-l19" class="l" transform="translate(459,405)"><rect x="-14" y="-4" width="28" height="8"/><text textLength="24" lengthAdjust="spacingAndGlyphs">VOLUMEN</text></g>
  <g id="ma-l20" class="l" transform="translate(350,408)"><rect x="-20" y="-4" width="40" height="8"/><text textLength="36" lengthAdjust="spacingAndGlyphs">CAPACIDAD</text></g>
  <g id="ma-l21" class="l" transform="translate(393,418)"><rect x="-10" y="-4" width="20" height="8"/><text textLength="16" lengthAdjust="spacingAndGlyphs">TIEMPO</text></g>
  <g id="ma-l22" class="l" transform="translate(429,417)"><rect x="-11" y="-4" width="22" height="8"/><text textLength="18" lengthAdjust="spacingAndGlyphs">ÁREA</text></g>
</g>

<!-- CIENCIAS NATURALES -->
<g id="cl-naturales" class="k-cn">
  <g id="naturales" class="h" transform="translate(351,548)"><rect x="-46.5" y="-15" width="93" height="30"/><text y="-6.5" textLength="70" lengthAdjust="spacingAndGlyphs">CIENCIAS</text><text y="7" textLength="82" lengthAdjust="spacingAndGlyphs">NATURALES</text></g>
  <g id="cn-c1" class="c" transform="translate(352,493)"><rect x="-26.5" y="-4.5" width="53" height="9"/><text textLength="47" lengthAdjust="spacingAndGlyphs">SER HUMANO</text></g>
  <g id="cn-c2" class="c" transform="translate(298,515)"><rect x="-26.5" y="-4.5" width="53" height="9"/><text textLength="47" lengthAdjust="spacingAndGlyphs">SERES VIVOS</text></g>
  <g id="cn-c3" class="c" transform="translate(398,515)"><rect x="-21.5" y="-8.5" width="43" height="17"/><text y="-3.5" textLength="35" lengthAdjust="spacingAndGlyphs">MATERIA Y</text><text y="3.5" textLength="31" lengthAdjust="spacingAndGlyphs">ENERGÍA</text></g>
  <g id="cn-c4" class="c" transform="translate(350,575)"><rect x="-21.5" y="-4.5" width="43" height="9"/><text textLength="37" lengthAdjust="spacingAndGlyphs">UNIVERSO</text></g>
  <g id="cn-l1" class="l" transform="translate(352,457)"><rect x="-15" y="-4" width="30" height="8"/><text textLength="26" lengthAdjust="spacingAndGlyphs">CUERPO</text></g>
  <g id="cn-l2" class="l" transform="translate(314,466)"><rect x="-17.5" y="-4" width="35" height="8"/><text textLength="31" lengthAdjust="spacingAndGlyphs">SALUD</text></g>
  <g id="cn-l3" class="l" transform="translate(386,467)"><rect x="-17.5" y="-4" width="35" height="8"/><text textLength="31" lengthAdjust="spacingAndGlyphs">NUTRICIÓN</text></g>
  <g id="cn-l4" class="l" transform="translate(288,477)"><rect x="-16.5" y="-4" width="33" height="8"/><text textLength="29" lengthAdjust="spacingAndGlyphs">SISTEMAS</text></g>
  <g id="cn-l5" class="l" transform="translate(410,477)"><rect x="-13.5" y="-4" width="27" height="8"/><text textLength="23" lengthAdjust="spacingAndGlyphs">SENTIDOS</text></g>
  <g id="cn-l6" class="l" transform="translate(262,488)"><rect x="-7.5" y="-4" width="15" height="8"/><text textLength="11" lengthAdjust="spacingAndGlyphs">ADN</text></g>
  <g id="cn-l7" class="l" transform="translate(420,488)"><rect x="-23.5" y="-4" width="47" height="8"/><text textLength="43" lengthAdjust="spacingAndGlyphs">PROPIEDADES</text></g>
  <g id="cn-l8" class="l" transform="translate(255,499)"><rect x="-12.5" y="-4" width="25" height="8"/><text textLength="21" lengthAdjust="spacingAndGlyphs">PLANTAS</text></g>
  <g id="cn-l9" class="l" transform="translate(443,499)"><rect x="-15" y="-4" width="30" height="8"/><text textLength="26" lengthAdjust="spacingAndGlyphs">MEZCLAS</text></g>
  <g id="cn-l10" class="l" transform="translate(246,515)"><rect x="-16" y="-4" width="32" height="8"/><text textLength="28" lengthAdjust="spacingAndGlyphs">ANIMALES</text></g>
  <g id="cn-l11" class="l" transform="translate(454,514)"><rect x="-8.5" y="-4" width="17" height="8"/><text textLength="13" lengthAdjust="spacingAndGlyphs">CALOR</text></g>
  <g id="cn-l12" class="l" transform="translate(243,535)"><rect x="-17.5" y="-4" width="35" height="8"/><text textLength="31" lengthAdjust="spacingAndGlyphs">HÁBITATS</text></g>
  <g id="cn-l13" class="l" transform="translate(457,526)"><rect x="-11" y="-4" width="22" height="8"/><text textLength="14" lengthAdjust="spacingAndGlyphs">LUZ</text></g>
  <g id="cn-l14" class="l" transform="translate(460,539)"><rect x="-15" y="-4" width="30" height="8"/><text textLength="26" lengthAdjust="spacingAndGlyphs">SONIDO</text></g>
  <g id="cn-l15" class="l" transform="translate(239,553)"><rect x="-9" y="-4" width="18" height="8"/><text textLength="14" lengthAdjust="spacingAndGlyphs">CÉLULA</text></g>
  <g id="cn-l16" class="l" transform="translate(453,554)"><rect x="-15" y="-4" width="30" height="8"/><text textLength="26" lengthAdjust="spacingAndGlyphs">FUERZAS</text></g>
  <g id="cn-l17" class="l" transform="translate(257,567)"><rect x="-17.5" y="-4" width="35" height="8"/><text textLength="31" lengthAdjust="spacingAndGlyphs">PLANETAS</text></g>
  <g id="cn-l18" class="l" transform="translate(446,566)"><rect x="-12.5" y="-4" width="25" height="8"/><text textLength="21" lengthAdjust="spacingAndGlyphs">ÁTOMO</text></g>
  <g id="cn-l19" class="l" transform="translate(270,581)"><rect x="-21.5" y="-4" width="43" height="8"/><text textLength="39" lengthAdjust="spacingAndGlyphs">ESTRELLAS</text></g>
  <g id="cn-l20" class="l" transform="translate(438,579)"><rect x="-10" y="-4" width="20" height="8"/><text textLength="16" lengthAdjust="spacingAndGlyphs">LUNA</text></g>
  <g id="cn-l21" class="l" transform="translate(283,592)"><rect x="-15" y="-4" width="30" height="8"/><text textLength="26" lengthAdjust="spacingAndGlyphs">GALAXIAS</text></g>
  <g id="cn-l22" class="l" transform="translate(418,591)"><rect x="-19" y="-4" width="38" height="8"/><text textLength="34" lengthAdjust="spacingAndGlyphs">ECLIPSES</text></g>
  <g id="cn-l23" class="l" transform="translate(305,604)"><rect x="-16.5" y="-4" width="33" height="8"/><text textLength="29" lengthAdjust="spacingAndGlyphs">COMETAS</text></g>
  <g id="cn-l24" class="l" transform="translate(392,603)"><rect x="-15" y="-4" width="30" height="8"/><text textLength="26" lengthAdjust="spacingAndGlyphs">ÓRBITAS</text></g>
  <g id="cn-l25" class="l" transform="translate(335,617)"><rect x="-11.5" y="-4" width="23" height="8"/><text textLength="13" lengthAdjust="spacingAndGlyphs">SOL</text></g>
  <g id="cn-l26" class="l" transform="translate(372,617)"><rect x="-16.5" y="-4" width="33" height="8"/><text textLength="27" lengthAdjust="spacingAndGlyphs">TIERRA</text></g>
</g>

<!-- ÉTICA Y VALORES -->
<g id="cl-etica" class="k-et">
  <g id="etica" class="h" transform="translate(1265,548)"><rect x="-37.5" y="-15" width="75" height="30"/><text y="-6.5" textLength="58" lengthAdjust="spacingAndGlyphs">ETICA Y</text><text y="7" textLength="65" lengthAdjust="spacingAndGlyphs">VALORES</text></g>
  <g id="et-c1" class="c" transform="translate(1265,489)"><rect x="-28" y="-8" width="56" height="16"/><text y="-3.5" textLength="48" lengthAdjust="spacingAndGlyphs">PERTENENCIA A</text><text y="3.5" textLength="48" lengthAdjust="spacingAndGlyphs">COMUNIDADES</text></g>
  <g id="et-c2" class="c" transform="translate(1223,517)"><rect x="-21.5" y="-8" width="43" height="16"/><text y="-3.5" textLength="33" lengthAdjust="spacingAndGlyphs">PROYECTO</text><text y="3.5" textLength="28" lengthAdjust="spacingAndGlyphs">DE VIDA</text></g>
  <g id="et-c3" class="c" transform="translate(1305,515)"><rect x="-25" y="-8" width="50" height="16"/><text y="-3.5" textLength="38" lengthAdjust="spacingAndGlyphs">DERECHOS</text><text y="3.5" textLength="34" lengthAdjust="spacingAndGlyphs">HUMANOS</text></g>
  <g id="et-c4" class="c" transform="translate(1264,578)"><rect x="-22.5" y="-4" width="45" height="8"/><text textLength="41" lengthAdjust="spacingAndGlyphs">ASERTIVIDAD</text></g>
  <g id="et-l1" class="l" transform="translate(1233,461)"><rect x="-13.5" y="-4" width="27" height="8"/><text textLength="23" lengthAdjust="spacingAndGlyphs">FAMILIA</text></g>
  <g id="et-l2" class="l" transform="translate(1291,462)"><rect x="-17.5" y="-6.5" width="35" height="13"/><text y="-3" textLength="31" lengthAdjust="spacingAndGlyphs">ESCUELA Y</text><text y="3" textLength="24" lengthAdjust="spacingAndGlyphs">AMIGOS</text></g>
  <g id="et-l3" class="l" transform="translate(1197,475)"><rect x="-16" y="-4" width="32" height="8"/><text textLength="28" lengthAdjust="spacingAndGlyphs">VALORES</text></g>
  <g id="et-l4" class="l" transform="translate(1333,482)"><rect x="-20" y="-6.5" width="40" height="13"/><text y="-3" textLength="36" lengthAdjust="spacingAndGlyphs">DERECHOS Y</text><text y="3" textLength="28" lengthAdjust="spacingAndGlyphs">DEBERES</text></g>
  <g id="et-l5" class="l" transform="translate(1173,500)"><rect x="-20" y="-6.5" width="40" height="13"/><text y="-3" textLength="28" lengthAdjust="spacingAndGlyphs">VOCACIÓN</text><text y="3" textLength="36" lengthAdjust="spacingAndGlyphs">DE SERVICIO</text></g>
  <g id="et-l6" class="l" transform="translate(1361,507)"><rect x="-19" y="-6.5" width="38" height="13"/><text y="-3" textLength="34" lengthAdjust="spacingAndGlyphs">EQUIDAD DE</text><text y="3" textLength="24" lengthAdjust="spacingAndGlyphs">GÉNERO</text></g>
  <g id="et-l7" class="l" transform="translate(1168,533)"><rect x="-30" y="-4" width="60" height="8"/><text textLength="56" lengthAdjust="spacingAndGlyphs">AUTORREALIZACIÓN</text></g>
  <g id="et-l8" class="l" transform="translate(1359,530)"><rect x="-21" y="-6.5" width="42" height="13"/><text y="-3" textLength="30" lengthAdjust="spacingAndGlyphs">DIGNIDAD</text><text y="3" textLength="26" lengthAdjust="spacingAndGlyphs">HUMANA</text></g>
  <g id="et-l9" class="l" transform="translate(1180,565)"><rect x="-31" y="-4" width="62" height="8"/><text textLength="58" lengthAdjust="spacingAndGlyphs">AUTOCONOCIMIENTO</text></g>
  <g id="et-l10" class="l" transform="translate(1352,558)"><rect x="-28.5" y="-6.5" width="57" height="13"/><text y="-3" textLength="36" lengthAdjust="spacingAndGlyphs">DERECHOS Y</text><text y="3" textLength="53" lengthAdjust="spacingAndGlyphs">RESPONSABILIDADES</text></g>
  <g id="et-l11" class="l" transform="translate(1187,588)"><rect x="-14" y="-4" width="28" height="8"/><text textLength="24" lengthAdjust="spacingAndGlyphs">EMPATÍA</text></g>
  <g id="et-l12" class="l" transform="translate(1335,582)"><rect x="-25" y="-6.5" width="50" height="13"/><text y="-3" textLength="32" lengthAdjust="spacingAndGlyphs">DIÁLOGO Y</text><text y="3" textLength="46" lengthAdjust="spacingAndGlyphs">ENTENDIMIENTO</text></g>
  <g id="et-l13" class="l" transform="translate(1223,603)"><rect x="-21.5" y="-4" width="43" height="8"/><text textLength="39" lengthAdjust="spacingAndGlyphs">HONESTIDAD</text></g>
  <g id="et-l14" class="l" transform="translate(1289,603)"><rect x="-19" y="-4" width="38" height="8"/><text textLength="34" lengthAdjust="spacingAndGlyphs">RESPETO</text></g>
</g>

<!-- INFORMÁTICA -->
<g id="cl-informatica" class="k-if">
  <g id="informatica" class="h" transform="translate(427,762)"><rect x="-56.5" y="-8.5" width="113" height="17"/><text textLength="103" lengthAdjust="spacingAndGlyphs">INFORMÁTICA</text></g>
  <g id="if-c1" class="c" transform="translate(427,707)"><rect x="-30" y="-8.5" width="60" height="17"/><text y="-3.5" textLength="52" lengthAdjust="spacingAndGlyphs">COMUNICACIÓN</text><text y="3.5" textLength="28" lengthAdjust="spacingAndGlyphs">DIGITAL</text></g>
  <g id="if-c2" class="c" transform="translate(389,738)"><rect x="-31" y="-8.5" width="62" height="17"/><text y="-3.5" textLength="40" lengthAdjust="spacingAndGlyphs">GESTIÓN DE</text><text y="3.5" textLength="54" lengthAdjust="spacingAndGlyphs">INFORMACIÓN</text></g>
  <g id="if-c3" class="c" transform="translate(470,737)"><rect x="-35" y="-4.5" width="70" height="9"/><text textLength="62" lengthAdjust="spacingAndGlyphs">PROGRAMACIÓN</text></g>
  <g id="if-c4" class="c" transform="translate(427,784)"><rect x="-27.5" y="-8.5" width="55" height="17"/><text y="-3.5" textLength="36" lengthAdjust="spacingAndGlyphs">SISTEMAS</text><text y="3.5" textLength="46" lengthAdjust="spacingAndGlyphs">OPERATIVOS</text></g>
  <g id="if-l1" class="l" transform="translate(399,674)"><rect x="-19" y="-4" width="38" height="8"/><text textLength="34" lengthAdjust="spacingAndGlyphs">INTERNET</text></g>
  <g id="if-l2" class="l" transform="translate(446,672)"><rect x="-23.5" y="-4" width="47" height="8"/><text textLength="43" lengthAdjust="spacingAndGlyphs">REDES SOCIALES</text></g>
  <g id="if-l3" class="l" transform="translate(360,685)"><rect x="-11" y="-4" width="22" height="8"/><text textLength="18" lengthAdjust="spacingAndGlyphs">CHAT</text></g>
  <g id="if-l4" class="l" transform="translate(480,685)"><rect x="-23.5" y="-6.5" width="47" height="13"/><text y="-3" textLength="43" lengthAdjust="spacingAndGlyphs">COMUNIDADES</text><text y="3" textLength="32" lengthAdjust="spacingAndGlyphs">VIRTUALES</text></g>
  <g id="if-l5" class="l" transform="translate(353,697)"><rect x="-21.5" y="-4" width="43" height="8"/><text textLength="39" lengthAdjust="spacingAndGlyphs">VIDEOLLAMADA</text></g>
  <g id="if-l6" class="l" transform="translate(353,708)"><rect x="-28.5" y="-4" width="57" height="8"/><text textLength="53" lengthAdjust="spacingAndGlyphs">SEGURIDAD DIGITAL</text></g>
  <g id="if-l7" class="l" transform="translate(507,700)"><rect x="-20" y="-4" width="40" height="8"/><text textLength="36" lengthAdjust="spacingAndGlyphs">ALGORITMOS</text></g>
  <g id="if-l8" class="l" transform="translate(338,722)"><rect x="-23.5" y="-4" width="47" height="8"/><text textLength="43" lengthAdjust="spacingAndGlyphs">BASES DE DATOS</text></g>
  <g id="if-l9" class="l" transform="translate(517,714)"><rect x="-21.5" y="-4" width="43" height="8"/><text textLength="39" lengthAdjust="spacingAndGlyphs">LENGUAJES</text></g>
  <g id="if-l10" class="l" transform="translate(328,735)"><rect x="-18.5" y="-4" width="37" height="8"/><text textLength="33" lengthAdjust="spacingAndGlyphs">BÚSQUEDA</text></g>
  <g id="if-l11" class="l" transform="translate(531,727)"><rect x="-11.5" y="-4" width="23" height="8"/><text textLength="19" lengthAdjust="spacingAndGlyphs">CÓDIGO</text></g>
  <g id="if-l12" class="l" transform="translate(323,752)"><rect x="-20" y="-6.5" width="40" height="13"/><text y="-3" textLength="36" lengthAdjust="spacingAndGlyphs">CREACIÓN DE</text><text y="3" textLength="28" lengthAdjust="spacingAndGlyphs">ARCHIVOS</text></g>
  <g id="if-l13" class="l" transform="translate(532,743)"><rect x="-18.5" y="-4" width="37" height="8"/><text textLength="33" lengthAdjust="spacingAndGlyphs">VARIABLES</text></g>
  <g id="if-l14" class="l" transform="translate(334,772)"><rect x="-21" y="-6.5" width="42" height="13"/><text y="-3" textLength="28" lengthAdjust="spacingAndGlyphs">HOJAS DE</text><text y="3" textLength="24" lengthAdjust="spacingAndGlyphs">CÁLCULO</text></g>
  <g id="if-l15" class="l" transform="translate(533,758)"><rect x="-16.5" y="-4" width="33" height="8"/><text textLength="29" lengthAdjust="spacingAndGlyphs">CICLOS</text></g>
  <g id="if-l16" class="l" transform="translate(522,771)"><rect x="-21.5" y="-4" width="43" height="8"/><text textLength="39" lengthAdjust="spacingAndGlyphs">FUNCIONES</text></g>
  <g id="if-l17" class="l" transform="translate(353,790)"><rect x="-22.5" y="-4" width="45" height="8"/><text textLength="41" lengthAdjust="spacingAndGlyphs">ESCRITORIO</text></g>
  <g id="if-l18" class="l" transform="translate(513,785)"><rect x="-23.5" y="-4" width="47" height="8"/><text textLength="43" lengthAdjust="spacingAndGlyphs">APLICACIONES</text></g>
  <g id="if-l19" class="l" transform="translate(368,802)"><rect x="-18.5" y="-4" width="37" height="8"/><text textLength="33" lengthAdjust="spacingAndGlyphs">ARCHIVOS</text></g>
  <g id="if-l20" class="l" transform="translate(500,797)"><rect x="-13.5" y="-4" width="27" height="8"/><text textLength="23" lengthAdjust="spacingAndGlyphs">VENTANAS</text></g>
  <g id="if-l21" class="l" transform="translate(477,808)"><rect x="-16.5" y="-4" width="33" height="8"/><text textLength="29" lengthAdjust="spacingAndGlyphs">SOFTWARE</text></g>
  <g id="if-l22" class="l" transform="translate(393,815)"><rect x="-19" y="-4" width="38" height="8"/><text textLength="34" lengthAdjust="spacingAndGlyphs">HARDWARE</text></g>
  <g id="if-l23" class="l" transform="translate(441,815)"><rect x="-16.5" y="-4" width="33" height="8"/><text textLength="29" lengthAdjust="spacingAndGlyphs">PERIFÉRICOS</text></g>
</g>

<!-- CIENCIAS SOCIALES -->
<g id="cl-sociales" class="k-cs">
  <g id="sociales" class="h" transform="translate(1202,742)"><rect x="-39.5" y="-15.5" width="79" height="31"/><text y="-6.5" textLength="68" lengthAdjust="spacingAndGlyphs">CIENCIAS</text><text y="7" textLength="68" lengthAdjust="spacingAndGlyphs">SOCIALES</text></g>
  <g id="cs-c1" class="c" transform="translate(1205,692)"><rect x="-22" y="-4.5" width="44" height="9"/><text textLength="38" lengthAdjust="spacingAndGlyphs">HISTORIA</text></g>
  <g id="cs-c2" class="c" transform="translate(1148,717)"><rect x="-21.5" y="-4.5" width="43" height="9"/><text textLength="37" lengthAdjust="spacingAndGlyphs">SOCIEDAD</text></g>
  <g id="cs-c3" class="c" transform="translate(1260,719)"><rect x="-17.5" y="-4.5" width="35" height="9"/><text textLength="29" lengthAdjust="spacingAndGlyphs">ESTADO</text></g>
  <g id="cs-c4" class="c" transform="translate(1204,772)"><rect x="-24" y="-4.5" width="48" height="9"/><text textLength="42" lengthAdjust="spacingAndGlyphs">GEOGRAFÍA</text></g>
  <g id="cs-l1" class="l" transform="translate(1205,659)"><rect x="-18.5" y="-4" width="37" height="8"/><text textLength="33" lengthAdjust="spacingAndGlyphs">PREHISTORIA</text></g>
  <g id="cs-l2" class="l" transform="translate(1165,669)"><rect x="-15" y="-4" width="30" height="8"/><text textLength="26" lengthAdjust="spacingAndGlyphs">CULTURAS</text></g>
  <g id="cs-l3" class="l" transform="translate(1243,669)"><rect x="-16" y="-4" width="32" height="8"/><text textLength="28" lengthAdjust="spacingAndGlyphs">IMPERIOS</text></g>
  <g id="cs-l4" class="l" transform="translate(1140,682)"><rect x="-15" y="-4" width="30" height="8"/><text textLength="26" lengthAdjust="spacingAndGlyphs">CONQUISTA</text></g>
  <g id="cs-l5" class="l" transform="translate(1267,681)"><rect x="-11.5" y="-4" width="23" height="8"/><text textLength="19" lengthAdjust="spacingAndGlyphs">COLONIA</text></g>
  <g id="cs-l6" class="l" transform="translate(1122,697)"><rect x="-21" y="-4" width="42" height="8"/><text textLength="38" lengthAdjust="spacingAndGlyphs">INDEPENDENCIA</text></g>
  <g id="cs-l7" class="l" transform="translate(1285,695)"><rect x="-15" y="-4" width="30" height="8"/><text textLength="26" lengthAdjust="spacingAndGlyphs">GOBIERNO</text></g>
  <g id="cs-l8" class="l" transform="translate(1098,715)"><rect x="-11.5" y="-4" width="23" height="8"/><text textLength="19" lengthAdjust="spacingAndGlyphs">FAMILIA</text></g>
  <g id="cs-l9" class="l" transform="translate(1302,709)"><rect x="-11.5" y="-4" width="23" height="8"/><text textLength="19" lengthAdjust="spacingAndGlyphs">LEYES</text></g>
  <g id="cs-l10" class="l" transform="translate(1093,733)"><rect x="-11.5" y="-4" width="23" height="8"/><text textLength="19" lengthAdjust="spacingAndGlyphs">CIUDAD</text></g>
  <g id="cs-l11" class="l" transform="translate(1307,731)"><rect x="-13" y="-4" width="26" height="8"/><text textLength="22" lengthAdjust="spacingAndGlyphs">PODER</text></g>
  <g id="cs-l12" class="l" transform="translate(1100,754)"><rect x="-20" y="-4" width="40" height="8"/><text textLength="36" lengthAdjust="spacingAndGlyphs">COSTUMBRES</text></g>
  <g id="cs-l13" class="l" transform="translate(1308,751)"><rect x="-11" y="-4" width="22" height="8"/><text textLength="18" lengthAdjust="spacingAndGlyphs">NACIÓN</text></g>
  <g id="cs-l14" class="l" transform="translate(1114,774)"><rect x="-17.5" y="-4" width="35" height="8"/><text textLength="31" lengthAdjust="spacingAndGlyphs">ECONOMÍA</text></g>
  <g id="cs-l15" class="l" transform="translate(1301,767)"><rect x="-14" y="-4" width="28" height="8"/><text textLength="24" lengthAdjust="spacingAndGlyphs">DEMOCRACIA</text></g>
  <g id="cs-l16" class="l" transform="translate(1132,791)"><rect x="-15" y="-4" width="30" height="8"/><text textLength="26" lengthAdjust="spacingAndGlyphs">RELIEVE</text></g>
  <g id="cs-l17" class="l" transform="translate(1287,785)"><rect x="-12.5" y="-4" width="25" height="8"/><text textLength="21" lengthAdjust="spacingAndGlyphs">CLIMA</text></g>
  <g id="cs-l18" class="l" transform="translate(1157,807)"><rect x="-11" y="-4" width="22" height="8"/><text textLength="18" lengthAdjust="spacingAndGlyphs">RÍOS</text></g>
  <g id="cs-l19" class="l" transform="translate(1272,796)"><rect x="-11.5" y="-4" width="23" height="8"/><text textLength="19" lengthAdjust="spacingAndGlyphs">MAPAS</text></g>
  <g id="cs-l20" class="l" transform="translate(1240,807)"><rect x="-18.5" y="-4" width="37" height="8"/><text textLength="33" lengthAdjust="spacingAndGlyphs">POBLACIÓN</text></g>
  <g id="cs-l21" class="l" transform="translate(1203,815)"><rect x="-15" y="-4" width="30" height="8"/><text textLength="26" lengthAdjust="spacingAndGlyphs">REGIONES</text></g>
</g>

<!-- EDUCACIÓN FÍSICA -->
<g id="cl-fisica" class="k-ef">
  <g id="fisica" class="h" transform="translate(654,915)"><rect x="-47.5" y="-17" width="95" height="34"/><text y="-7.5" textLength="84" lengthAdjust="spacingAndGlyphs">EDUCACIÓN</text><text y="8" textLength="54" lengthAdjust="spacingAndGlyphs">FÍSICA</text></g>
  <g id="ef-c1" class="c" transform="translate(648,867)"><rect x="-32.5" y="-4.5" width="65" height="9"/><text textLength="59" lengthAdjust="spacingAndGlyphs">CAPACIDADES FÍSICAS</text></g>
  <g id="ef-c2" class="c" transform="translate(609,887)"><rect x="-16" y="-4.5" width="32" height="9"/><text textLength="26" lengthAdjust="spacingAndGlyphs">JUEGOS</text></g>
  <g id="ef-c3" class="c" transform="translate(710,886)"><rect x="-25" y="-4.5" width="50" height="9"/><text textLength="40" lengthAdjust="spacingAndGlyphs">DEPORTES</text></g>
  <g id="ef-c4" class="c" transform="translate(654,944)"><rect x="-24" y="-4.5" width="48" height="9"/><text textLength="42" lengthAdjust="spacingAndGlyphs">ACTITUDES</text></g>
  <g id="ef-l1" class="l" transform="translate(654,830)"><rect x="-21" y="-6.5" width="42" height="13"/><text y="-3" textLength="38" lengthAdjust="spacingAndGlyphs">RESISTENCIA</text><text y="3" textLength="22" lengthAdjust="spacingAndGlyphs">FÍSICA</text></g>
  <g id="ef-l2" class="l" transform="translate(693,846)"><rect x="-20" y="-6.5" width="40" height="13"/><text y="-3" textLength="34" lengthAdjust="spacingAndGlyphs">VELOCIDAD</text><text y="3" textLength="30" lengthAdjust="spacingAndGlyphs">Y FUERZA</text></g>
  <g id="ef-l3" class="l" transform="translate(605,847)"><rect x="-32.5" y="-4" width="65" height="8"/><text textLength="61" lengthAdjust="spacingAndGlyphs">COORDINACIÓN MOTRIZ</text></g>
  <g id="ef-l4" class="l" transform="translate(574,859)"><rect x="-12.5" y="-4" width="25" height="8"/><text textLength="21" lengthAdjust="spacingAndGlyphs">RONDAS</text></g>
  <g id="ef-l5" class="l" transform="translate(733,858)"><rect x="-15" y="-4" width="30" height="8"/><text textLength="26" lengthAdjust="spacingAndGlyphs">FÚTBOL</text></g>
  <g id="ef-l6" class="l" transform="translate(568,873)"><rect x="-26" y="-4" width="52" height="8"/><text textLength="48" lengthAdjust="spacingAndGlyphs">TRADICIONALES</text></g>
  <g id="ef-l7" class="l" transform="translate(748,873)"><rect x="-10" y="-4" width="20" height="8"/><text textLength="16" lengthAdjust="spacingAndGlyphs">VÓLEY</text></g>
  <g id="ef-l8" class="l" transform="translate(545,885)"><rect x="-10" y="-4" width="20" height="8"/><text textLength="16" lengthAdjust="spacingAndGlyphs">RELEVOS</text></g>
  <g id="ef-l9" class="l" transform="translate(758,890)"><rect x="-10" y="-4" width="20" height="8"/><text textLength="16" lengthAdjust="spacingAndGlyphs">BÁSQUET</text></g>
  <g id="ef-l10" class="l" transform="translate(539,897)"><rect x="-12.5" y="-4" width="25" height="8"/><text textLength="21" lengthAdjust="spacingAndGlyphs">CIRCUITOS</text></g>
  <g id="ef-l11" class="l" transform="translate(765,909)"><rect x="-16.5" y="-6.5" width="33" height="13"/><text y="-3" textLength="20" lengthAdjust="spacingAndGlyphs">JUEGOS</text><text y="3" textLength="29" lengthAdjust="spacingAndGlyphs">PREDEPORTIVOS</text></g>
  <g id="ef-l12" class="l" transform="translate(542,915)"><rect x="-21" y="-4" width="42" height="8"/><text textLength="38" lengthAdjust="spacingAndGlyphs">EXPLORACIÓN</text></g>
  <g id="ef-l13" class="l" transform="translate(755,928)"><rect x="-18.5" y="-4" width="37" height="8"/><text textLength="33" lengthAdjust="spacingAndGlyphs">ATLETISMO</text></g>
  <g id="ef-l14" class="l" transform="translate(548,933)"><rect x="-18.5" y="-4" width="37" height="8"/><text textLength="33" lengthAdjust="spacingAndGlyphs">RECREACIÓN</text></g>
  <g id="ef-l15" class="l" transform="translate(742,943)"><rect x="-15" y="-4" width="30" height="8"/><text textLength="26" lengthAdjust="spacingAndGlyphs">DISCIPLINA</text></g>
  <g id="ef-l16" class="l" transform="translate(564,944)"><rect x="-21" y="-4" width="42" height="8"/><text textLength="38" lengthAdjust="spacingAndGlyphs">COOPERACIÓN</text></g>
  <g id="ef-l17" class="l" transform="translate(728,960)"><rect x="-15" y="-4" width="30" height="8"/><text textLength="26" lengthAdjust="spacingAndGlyphs">TOLERANCIA</text></g>
  <g id="ef-l18" class="l" transform="translate(580,957)"><rect x="-20" y="-4" width="40" height="8"/><text textLength="36" lengthAdjust="spacingAndGlyphs">CREATIVIDAD</text></g>
  <g id="ef-l19" class="l" transform="translate(703,973)"><rect x="-12.5" y="-4" width="25" height="8"/><text textLength="21" lengthAdjust="spacingAndGlyphs">EQUIPO</text></g>
  <g id="ef-l20" class="l" transform="translate(597,970)"><rect x="-19" y="-4" width="38" height="8"/><text textLength="34" lengthAdjust="spacingAndGlyphs">AUTONOMÍA</text></g>
  <g id="ef-l21" class="l" transform="translate(653,982)"><rect x="-20" y="-4" width="40" height="8"/><text textLength="36" lengthAdjust="spacingAndGlyphs">CONSTANCIA</text></g>
</g>

<!-- RELIGIÓN -->
<g id="cl-religion" class="k-re">
  <g id="religion" class="h" transform="translate(987,918)"><rect x="-40" y="-8.5" width="80" height="17"/><text textLength="70" lengthAdjust="spacingAndGlyphs">RELIGIÓN</text></g>
  <g id="re-c1" class="c" transform="translate(987,860)"><rect x="-19.5" y="-8.5" width="39" height="17"/><text y="-3.5" textLength="18" lengthAdjust="spacingAndGlyphs">VIDA</text><text y="3.5" textLength="30" lengthAdjust="spacingAndGlyphs">HUMANA</text></g>
  <g id="re-c2" class="c" transform="translate(946,887)"><rect x="-26" y="-8.5" width="52" height="17"/><text y="-3.5" textLength="42" lengthAdjust="spacingAndGlyphs">COMUNIDAD</text><text y="3.5" textLength="42" lengthAdjust="spacingAndGlyphs">CRISTIANA</text></g>
  <g id="re-c3" class="c" transform="translate(1036,886)"><rect x="-22.5" y="-8.5" width="45" height="17"/><text y="-3.5" textLength="34" lengthAdjust="spacingAndGlyphs">MENSAJE</text><text y="3.5" textLength="32" lengthAdjust="spacingAndGlyphs">DE DIOS</text></g>
  <g id="re-c4" class="c" transform="translate(987,944)"><rect x="-14" y="-4.5" width="28" height="9"/><text textLength="24" lengthAdjust="spacingAndGlyphs">BIBLIA</text></g>
  <g id="re-l1" class="l" transform="translate(987,824)"><rect x="-19" y="-6.5" width="38" height="13"/><text y="-3" textLength="28" lengthAdjust="spacingAndGlyphs">DIGNIDAD</text><text y="3" textLength="34" lengthAdjust="spacingAndGlyphs">DE LA PERSONA</text></g>
  <g id="re-l2" class="l" transform="translate(946,832)"><rect x="-10" y="-4" width="20" height="8"/><text textLength="16" lengthAdjust="spacingAndGlyphs">SALUD</text></g>
  <g id="re-l3" class="l" transform="translate(1027,834)"><rect x="-16.5" y="-4" width="33" height="8"/><text textLength="29" lengthAdjust="spacingAndGlyphs">FAMILIA</text></g>
  <g id="re-l4" class="l" transform="translate(927,848)"><rect x="-13.5" y="-4" width="27" height="8"/><text textLength="23" lengthAdjust="spacingAndGlyphs">IGLESIA</text></g>
  <g id="re-l5" class="l" transform="translate(1050,856)"><rect x="-20" y="-6.5" width="40" height="13"/><text y="-3" textLength="36" lengthAdjust="spacingAndGlyphs">HISTORIA DE</text><text y="3" textLength="30" lengthAdjust="spacingAndGlyphs">SALVACIÓN</text></g>
  <g id="re-l6" class="l" transform="translate(910,860)"><rect x="-13.5" y="-4" width="27" height="8"/><text textLength="23" lengthAdjust="spacingAndGlyphs">ORACIÓN</text></g>
  <g id="re-l7" class="l" transform="translate(899,872)"><rect x="-19" y="-4" width="38" height="8"/><text textLength="34" lengthAdjust="spacingAndGlyphs">SACRAMENTOS</text></g>
  <g id="re-l8" class="l" transform="translate(1077,869)"><rect x="-16" y="-4" width="32" height="8"/><text textLength="28" lengthAdjust="spacingAndGlyphs">PROFETAS</text></g>
  <g id="re-l9" class="l" transform="translate(888,887)"><rect x="-19" y="-4" width="38" height="8"/><text textLength="34" lengthAdjust="spacingAndGlyphs">SOLIDARIDAD</text></g>
  <g id="re-l10" class="l" transform="translate(1081,886)"><rect x="-14" y="-4" width="28" height="8"/><text textLength="24" lengthAdjust="spacingAndGlyphs">PARÁBOLAS</text></g>
  <g id="re-l11" class="l" transform="translate(880,903)"><rect x="-21" y="-4" width="42" height="8"/><text textLength="38" lengthAdjust="spacingAndGlyphs">COOPERACIÓN</text></g>
  <g id="re-l12" class="l" transform="translate(1085,901)"><rect x="-11" y="-4" width="22" height="8"/><text textLength="8" lengthAdjust="spacingAndGlyphs">FE</text></g>
  <g id="re-l13" class="l" transform="translate(883,927)"><rect x="-21.5" y="-6.5" width="43" height="13"/><text y="-3" textLength="30" lengthAdjust="spacingAndGlyphs">MISIONES</text><text y="3" textLength="39" lengthAdjust="spacingAndGlyphs">DE LA IGLESIA</text></g>
  <g id="re-l14" class="l" transform="translate(1086,917)"><rect x="-10" y="-4" width="20" height="8"/><text textLength="16" lengthAdjust="spacingAndGlyphs">AMOR</text></g>
  <g id="re-l15" class="l" transform="translate(907,947)"><rect x="-25" y="-6.5" width="50" height="13"/><text y="-3" textLength="26" lengthAdjust="spacingAndGlyphs">ANTIGUO</text><text y="3" textLength="38" lengthAdjust="spacingAndGlyphs">TESTAMENTO</text></g>
  <g id="re-l16" class="l" transform="translate(1076,931)"><rect x="-18.5" y="-4" width="37" height="8"/><text textLength="33" lengthAdjust="spacingAndGlyphs">ESPERANZA</text></g>
  <g id="re-l17" class="l" transform="translate(921,962)"><rect x="-19" y="-4" width="38" height="8"/><text textLength="34" lengthAdjust="spacingAndGlyphs">EVANGELIOS</text></g>
  <g id="re-l18" class="l" transform="translate(1080,950)"><rect x="-11.5" y="-4" width="23" height="8"/><text textLength="19" lengthAdjust="spacingAndGlyphs">PERDÓN</text></g>
  <g id="re-l19" class="l" transform="translate(952,978)"><rect x="-13.5" y="-4" width="27" height="8"/><text textLength="23" lengthAdjust="spacingAndGlyphs">SALMOS</text></g>
  <g id="re-l20" class="l" transform="translate(1050,962)"><rect x="-22.5" y="-4" width="45" height="8"/><text textLength="41" lengthAdjust="spacingAndGlyphs">MANDAMIENTOS</text></g>
  <g id="re-l21" class="l" transform="translate(988,982)"><rect x="-11" y="-4" width="22" height="8"/><text textLength="18" lengthAdjust="spacingAndGlyphs">JESÚS</text></g>
  <g id="re-l22" class="l" transform="translate(1021,977)"><rect x="-12.5" y="-4" width="25" height="8"/><text textLength="21" lengthAdjust="spacingAndGlyphs">HECHOS</text></g>
</g>
</svg>
